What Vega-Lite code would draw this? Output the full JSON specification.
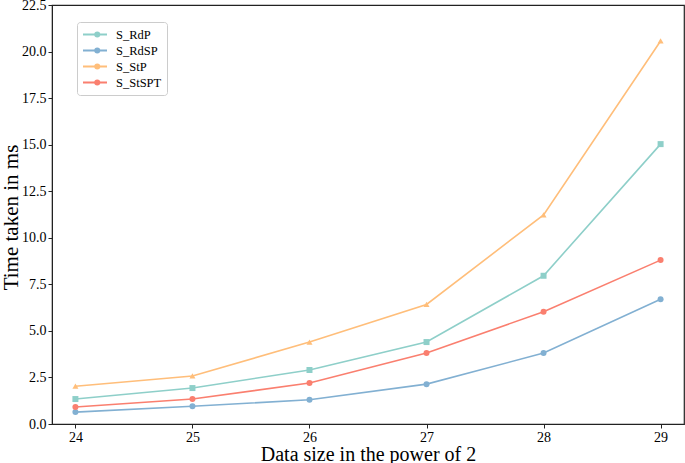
{
  "$schema": "https://vega.github.io/schema/vega-lite/v6.json",
  "width": 632,
  "height": 419,
  "autosize": {"type": "none"},
  "padding": {"left": 52, "top": 5, "right": 1, "bottom": 39},
  "background": "white",
  "config": {
    "font": "Liberation Serif",
    "view": {"stroke": "#222", "strokeWidth": 1.2},
    "axis": {"grid": false, "domainColor": "#222", "tickColor": "#222", "labelColor": "#000", "titleColor": "#000", "labelFont": "Liberation Serif", "titleFont": "Liberation Serif", "labelFontSize": 14, "titleFontSize": 20, "titleFontWeight": "normal", "tickSize": 4, "labelPadding": 2}
  },
  "resolve": {"legend": {"color": "independent"}},
  "data": {"values": [
    {"x": 24, "series": "S_RdP", "y": 1.34},
    {"x": 25, "series": "S_RdP", "y": 1.93},
    {"x": 26, "series": "S_RdP", "y": 2.9},
    {"x": 27, "series": "S_RdP", "y": 4.4},
    {"x": 28, "series": "S_RdP", "y": 7.96},
    {"x": 29, "series": "S_RdP", "y": 15.03},
    {"x": 24, "series": "S_RdSP", "y": 0.64},
    {"x": 25, "series": "S_RdSP", "y": 0.95},
    {"x": 26, "series": "S_RdSP", "y": 1.3},
    {"x": 27, "series": "S_RdSP", "y": 2.14},
    {"x": 28, "series": "S_RdSP", "y": 3.81},
    {"x": 29, "series": "S_RdSP", "y": 6.7},
    {"x": 24, "series": "S_StP", "y": 2.03},
    {"x": 25, "series": "S_StP", "y": 2.58},
    {"x": 26, "series": "S_StP", "y": 4.4},
    {"x": 27, "series": "S_StP", "y": 6.42},
    {"x": 28, "series": "S_StP", "y": 11.23},
    {"x": 29, "series": "S_StP", "y": 20.57},
    {"x": 24, "series": "S_StSPT", "y": 0.91},
    {"x": 25, "series": "S_StSPT", "y": 1.34},
    {"x": 26, "series": "S_StSPT", "y": 2.2},
    {"x": 27, "series": "S_StSPT", "y": 3.81},
    {"x": 28, "series": "S_StSPT", "y": 6.03},
    {"x": 29, "series": "S_StSPT", "y": 8.8}
  ]},
  "encoding": {
    "x": {"field": "x", "type": "quantitative", "title": "Data size in the power of 2",
      "scale": {"domain": [23.8, 29.2], "nice": false, "zero": false},
      "axis": {"values": [24, 25, 26, 27, 28, 29], "format": "d", "titleBaseline": "alphabetic", "titleY": 36}},
    "y": {"field": "y", "type": "quantitative", "title": "Time taken in ms",
      "scale": {"domain": [0, 22.5], "nice": false},
      "axis": {"values": [0, 2.5, 5, 7.5, 10, 12.5, 15, 17.5, 20, 22.5], "format": ".1f", "titleBaseline": "alphabetic", "titleX": -35, "titleY": 212, "titleFontSize": 21}}
  },
  "layer": [
    {"mark": {"type": "line", "strokeWidth": 1.6},
      "encoding": {"color": {"field": "series", "type": "nominal",
        "scale": {"domain": ["S_RdP", "S_RdSP", "S_StP", "S_StSPT"], "range": ["#8ECFC9", "#82B0D2", "#FFBE7A", "#FA7F6F"]},
        "legend": {"title": null, "orient": "none", "legendX": 25, "legendY": 17, "zindex": 0, "labelFont": "Liberation Serif", "labelFontSize": 12.5, "labelColor": "#000", "labelOffset": 8, "strokeColor": "#ccc", "cornerRadius": 3, "padding": 5, "symbolType": "stroke", "symbolSize": 576, "symbolStrokeWidth": 1.8, "clipHeight": 15, "rowPadding": 1}}}},
    {"mark": {"type": "point", "filled": true, "opacity": 1, "size": 36},
      "encoding": {
        "color": {"field": "series", "type": "nominal",
          "scale": {"domain": ["S_RdP", "S_RdSP", "S_StP", "S_StSPT"], "range": ["#8ECFC9", "#82B0D2", "#FFBE7A", "#FA7F6F"]},
          "legend": {"title": null, "orient": "none", "legendX": 34, "legendY": 17, "zindex": 2, "labelFontSize": 12.5, "labelExpr": "''", "labelOffset": 0, "padding": 5, "symbolSize": 36, "symbolOpacity": 1, "clipHeight": 15, "rowPadding": 1}},
        "shape": {"field": "series", "type": "nominal",
          "scale": {"domain": ["S_RdP", "S_RdSP", "S_StP", "S_StSPT"], "range": ["square", "circle", "triangle-up", "circle"]},
          "legend": null}}}
  ]
}
